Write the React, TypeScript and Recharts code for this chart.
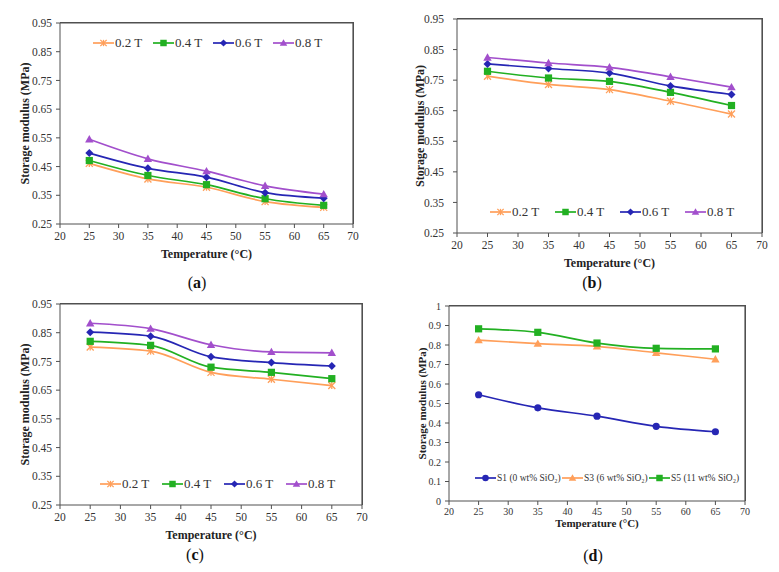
import React from "react";
import {
  LineChart,
  Line,
  XAxis,
  YAxis,
  Legend,
  Label,
  ReferenceLine,
} from "recharts";

// temperatures (°C)
const temps = [25, 35, 45, 55, 65];
const xTicks = [20, 25, 30, 35, 40, 45, 50, 55, 60, 65, 70];
const yTicksMain = [0.25, 0.35, 0.45, 0.55, 0.65, 0.75, 0.85, 0.95];
const yTicksD = [0, 0.1, 0.2, 0.3, 0.4, 0.5, 0.6, 0.7, 0.8, 0.9, 1];

const fieldNames = ["0.2 T", "0.4 T", "0.6 T", "0.8 T"];
const sampleNames = ["S1 (0 wt% SiO\u2082)", "S3 (6 wt% SiO\u2082)", "S5 (11 wt% SiO\u2082)"];

// (a)
const a02 = [0.461, 0.407, 0.378, 0.328, 0.308];
const a04 = [0.471, 0.419, 0.387, 0.338, 0.315];
const a06 = [0.497, 0.444, 0.413, 0.359, 0.34];
const a08 = [0.545, 0.477, 0.434, 0.383, 0.354];

// (b)
const b02 = [0.763, 0.736, 0.719, 0.681, 0.639];
const b04 = [0.779, 0.757, 0.746, 0.71, 0.667];
const b06 = [0.803, 0.788, 0.773, 0.731, 0.703];
const b08 = [0.824, 0.806, 0.792, 0.761, 0.727];

// (c)
const c02 = [0.8, 0.786, 0.712, 0.688, 0.666];
const c04 = [0.82, 0.806, 0.73, 0.712, 0.69];
const c06 = [0.852, 0.838, 0.766, 0.746, 0.734];
const c08 = [0.883, 0.864, 0.808, 0.783, 0.78];

// (d)
const dS1 = [0.545, 0.478, 0.435, 0.383, 0.355];
const dS3 = [0.825, 0.807, 0.793, 0.76, 0.727];
const dS5 = [0.883, 0.865, 0.81, 0.783, 0.78];

const FONT = '"Liberation Serif", "Times New Roman", serif';
const AXIS = "#505050";

const ORANGE = "#FF9F5A";
const GREEN = "#22B022";
const BLUE = "#2626B4";
const PURPLE = "#A24FCC";

const toRows = (series: number[][]) =>
  temps.map((t, i) => {
    const row: Record<string, number> = { t };
    series.forEach((s, k) => (row["s" + k] = s[i]));
    return row;
  });

type Shape = "star" | "square" | "diamond" | "triangle" | "circle";

const Marker = ({ shape, cx, cy, color, s = 1 }: { shape: Shape; cx: number; cy: number; color: string; s?: number }) => {
  if (cx == null || cy == null) return null;
  if (shape === "star") {
    const r = 3.5 * s;
    return (
      <g stroke={color} strokeWidth={1.3}>
        <line x1={cx - r} y1={cy - r} x2={cx + r} y2={cy + r} />
        <line x1={cx - r} y1={cy + r} x2={cx + r} y2={cy - r} />
        <line x1={cx} y1={cy - r} x2={cx} y2={cy + r} />
      </g>
    );
  }
  if (shape === "square") {
    const r = 3.6 * s;
    return <rect x={cx - r} y={cy - r} width={2 * r} height={2 * r} fill={color} />;
  }
  if (shape === "diamond") {
    const r = 4 * s;
    return <polygon points={`${cx},${cy - r} ${cx + r},${cy} ${cx},${cy + r} ${cx - r},${cy}`} fill={color} />;
  }
  if (shape === "triangle") {
    const r = 4.2 * s;
    return <polygon points={`${cx},${cy - r} ${cx + r},${cy + r * 0.75} ${cx - r},${cy + r * 0.75}`} fill={color} />;
  }
  return <circle cx={cx} cy={cy} r={3.6 * s} fill={color} />;
};

interface SeriesDef {
  name: string;
  color: string;
  shape: Shape;
}

interface PanelProps {
  left: number;
  top: number;
  width: number;
  height: number;
  margin: { top: number; right: number; bottom: number; left: number };
  yWidth: number;
  data: Record<string, number>[];
  series: SeriesDef[];
  yDomain: [number, number];
  yTicks: number[];
  yFmt: (v: number) => string;
  tickFont: number;
  titleFont: number;
  yTitleX: number;
  xTickMargin: number;
  yTickMargin: number;
  xTitleDy: number;
  legendLeft: number;
  legendTop: number;
  legendItem: number;
  legendFont: number;
}

const Panel = (p: PanelProps) => {
  const tickStyle = { fontFamily: FONT, fontSize: p.tickFont, fill: "#333" };
  const plotW = p.width - p.margin.left - p.margin.right - p.yWidth;
  const plotH = p.height - p.margin.top - p.margin.bottom - 40;
  return (
    <div style={{ position: "absolute", left: p.left, top: p.top, width: p.width, height: p.height, fontFamily: FONT }}>
      <LineChart width={p.width} height={p.height} data={p.data} margin={p.margin} style={{ fontFamily: FONT }}>
        <XAxis
          dataKey="t"
          type="number"
          scale="linear"
          domain={[20, 70]}
          ticks={xTicks}
          tickCount={11}
          stroke={AXIS}
          tickSize={4}
          tickMargin={p.xTickMargin}
          tick={tickStyle}
          height={40}
          interval={0}
          minTickGap={0}
        >
          <Label
            content={(props: any) => {
              const vb = props.viewBox || {};
              return (
                <text
                  x={vb.x + vb.width / 2}
                  y={vb.y + p.xTitleDy}
                  textAnchor="middle"
                  dominantBaseline="central"
                  fontFamily={FONT}
                  fontWeight="bold"
                  fontSize={p.titleFont}
                  fill="#222"
                >
                  Temperature (°C)
                </text>
              );
            }}
          />
        </XAxis>
        <YAxis
          domain={p.yDomain}
          ticks={p.yTicks}
          tickFormatter={p.yFmt}
          stroke={AXIS}
          tickSize={4}
          tickMargin={p.yTickMargin}
          tick={tickStyle}
          width={p.yWidth}
          interval={0}
        >
          <Label
            content={(props: any) => {
              const vb = props.viewBox || {};
              const cx = vb.x + p.yTitleX;
              const cy = vb.y + vb.height / 2;
              return (
                <text
                  x={cx}
                  y={cy}
                  transform={`rotate(-90 ${cx} ${cy})`}
                  textAnchor="middle"
                  dominantBaseline="central"
                  fontFamily={FONT}
                  fontWeight="bold"
                  fontSize={p.titleFont}
                  fill="#222"
                >
                  Storage modulus (MPa)
                </text>
              );
            }}
          />
        </YAxis>
        <ReferenceLine y={p.yDomain[1]} stroke={AXIS} strokeWidth={1.2} ifOverflow="extendDomain" />
        <ReferenceLine x={70} stroke={AXIS} strokeWidth={1.2} ifOverflow="extendDomain" />
        {p.series.map((s, k) => (
          <Line
            key={s.name}
            type="monotone"
            dataKey={"s" + k}
            name={s.name}
            stroke={s.color}
            strokeWidth={1.7}
            isAnimationActive={false}
            activeDot={false}
            dot={(d: any) => <Marker key={s.name + d.index} shape={s.shape} cx={d.cx} cy={d.cy} color={s.color} />}
          />
        ))}
        <Legend
          layout="horizontal"
          verticalAlign="middle"
          wrapperStyle={{ left: p.legendLeft, top: p.legendTop, width: "auto", height: "auto" }}
          content={() => (
            <div style={{ display: "flex", fontFamily: FONT, fontSize: p.legendFont, color: "#333", whiteSpace: "nowrap", lineHeight: "14px" }}>
              {p.series.map((s) => (
                <div key={s.name} style={{ display: "flex", alignItems: "center", width: p.legendItem }}>
                  <svg width={21} height={10} style={{ marginRight: 1, flex: "none" }}>
                    <line x1={0} y1={5} x2={21} y2={5} stroke={s.color} strokeWidth={1.7} />
                    <Marker shape={s.shape} cx={10.5} cy={5} color={s.color} s={0.9} />
                  </svg>
                  <span>{s.name}</span>
                </div>
              ))}
            </div>
          )}
        />
      </LineChart>
      {/* plot frame: top and right edges */}
      <div
        style={{
          position: "absolute",
          zIndex: 5,
          left: p.margin.left + p.yWidth,
          top: p.margin.top - 1,
          width: plotW + 1,
          height: plotH + 1,
          borderTop: `1px solid ${AXIS}`,
          borderRight: `1px solid ${AXIS}`,
          boxSizing: "border-box",
          pointerEvents: "none",
        }}
      />
    </div>
  );
};

const fieldSeries: SeriesDef[] = [
  { name: fieldNames[0], color: ORANGE, shape: "star" },
  { name: fieldNames[1], color: GREEN, shape: "square" },
  { name: fieldNames[2], color: BLUE, shape: "diamond" },
  { name: fieldNames[3], color: PURPLE, shape: "triangle" },
];

const sampleSeries: SeriesDef[] = [
  { name: sampleNames[0], color: BLUE, shape: "circle" },
  { name: sampleNames[1], color: ORANGE, shape: "triangle" },
  { name: sampleNames[2], color: GREEN, shape: "square" },
];

const fmt2 = (v: number) => v.toFixed(2);
const fmt1 = (v: number) => (v === 0 || v === 1 ? String(v) : v.toFixed(1));

const Caption = ({ text, x, y }: { text: string; x: number; y: number }) => (
  <div
    style={{
      position: "absolute",
      left: x - 20,
      top: y - 10,
      width: 40,
      height: 20,
      lineHeight: "20px",
      textAlign: "center",
      fontFamily: FONT,
      fontSize: 16,
      color: "#111",
    }}
  >
    (<b>{text}</b>)
  </div>
);

export default function App() {
  return (
    <div style={{ position: "absolute", left: 0, top: 0, width: 779, height: 572, background: "#fff", fontFamily: FONT }}>
      <Panel
        left={0}
        top={0}
        width={390}
        height={290}
        margin={{ top: 23, right: 37, bottom: 26, left: 0 }}
        yWidth={60}
        data={toRows([a02, a04, a06, a08])}
        series={fieldSeries}
        yDomain={[0.25, 0.95]}
        yTicks={yTicksMain}
        yFmt={fmt2}
        tickFont={11.5}
        titleFont={12}
        yTitleX={25}
        xTickMargin={4}
        yTickMargin={4}
        xTitleDy={30}
        legendLeft={93}
        legendTop={36}
        legendItem={60}
        legendFont={13}
      />
      <Panel
        left={390}
        top={0}
        width={389}
        height={290}
        margin={{ top: 19, right: 17, bottom: 17, left: 0 }}
        yWidth={67}
        data={toRows([b02, b04, b06, b08])}
        series={fieldSeries}
        yDomain={[0.25, 0.95]}
        yTicks={yTicksMain}
        yFmt={fmt2}
        tickFont={11.5}
        titleFont={12}
        yTitleX={30}
        xTickMargin={4}
        yTickMargin={9}
        xTitleDy={30}
        legendLeft={100}
        legendTop={205}
        legendItem={65}
        legendFont={13}
      />
      <Panel
        left={0}
        top={290}
        width={390}
        height={282}
        margin={{ top: 14, right: 28, bottom: 27, left: 0 }}
        yWidth={60}
        data={toRows([c02, c04, c06, c08])}
        series={fieldSeries}
        yDomain={[0.25, 0.95]}
        yTicks={yTicksMain}
        yFmt={fmt2}
        tickFont={11.5}
        titleFont={12}
        yTitleX={25}
        xTickMargin={4}
        yTickMargin={4}
        xTitleDy={30}
        legendLeft={100}
        legendTop={187}
        legendItem={62}
        legendFont={13}
      />
      <Panel
        left={390}
        top={290}
        width={389}
        height={282}
        margin={{ top: 16, right: 34, bottom: 31, left: 0 }}
        yWidth={59}
        data={toRows([dS1, dS3, dS5])}
        series={sampleSeries}
        yDomain={[0, 1]}
        yTicks={yTicksD}
        yFmt={fmt1}
        tickFont={10}
        titleFont={11}
        yTitleX={32}
        xTickMargin={3}
        yTickMargin={4}
        xTitleDy={22}
        legendLeft={85}
        legendTop={181}
        legendItem={87}
        legendFont={9.5}
      />
      <Caption text="a" x={197} y={283} />
      <Caption text="b" x={592} y={283} />
      <Caption text="c" x={195} y={555} />
      <Caption text="d" x={593} y={556} />
    </div>
  );
}
